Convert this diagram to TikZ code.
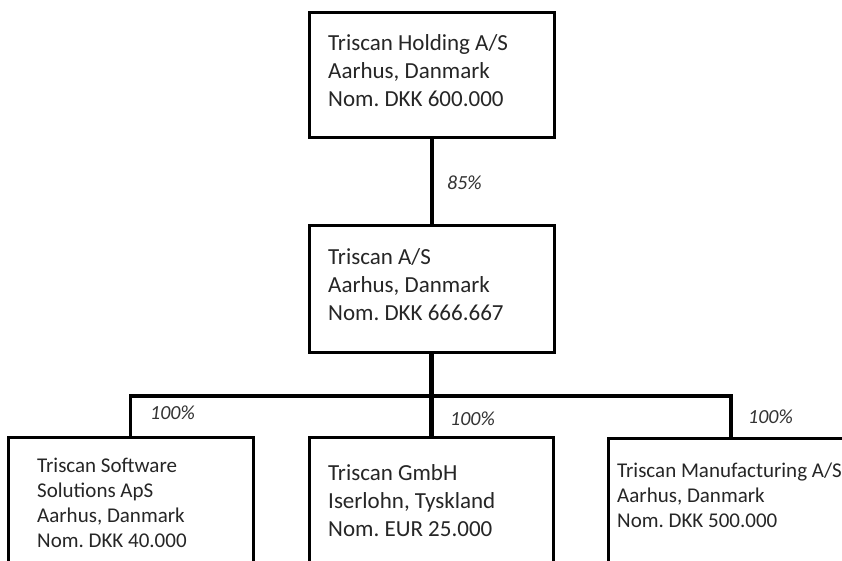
\documentclass[tikz,border=0pt]{standalone}
\usepackage{fontspec}
\setmainfont{Carlito}
\frenchspacing
\begin{document}
\begin{tikzpicture}[x=1pt,y=-1pt,
  box/.style={draw=black, line width=3pt, inner sep=0pt, rectangle},
  big/.style={font=\fontsize{23}{28}\selectfont, text=black!85, align=left, anchor=west, inner sep=0pt},
  small/.style={font=\fontsize{21}{25}\selectfont, text=black!85, align=left, anchor=west, inner sep=0pt},
  pct/.style={font=\fontsize{20}{24}\selectfont\itshape, text=black!80, anchor=west, inner sep=0pt},
  conn/.style={draw=black, line width=3.6pt, line join=miter}]
\useasboundingbox (0,0) rectangle (842,560);
\clip (0,0) rectangle (842,560);
\fill[white] (0,0) rectangle (842,560);
% boxes
\node[box, minimum width=245pt, minimum height=125pt] (top) at (431.5,74.5) {};
\node[box, minimum width=245pt, minimum height=127pt] (mid) at (431.5,288.5) {};
\node[box, minimum width=245pt, minimum height=143pt] (b1) at (130.5,508.5) {};
\node[box, minimum width=244pt, minimum height=143pt] (b2) at (431.5,508.5) {};
\node[box, minimum width=246pt, minimum height=142pt] (b3) at (731,509) {};
% texts
\node[big] (t1) at (328,71) {Triscan Holding A/S\\Aarhus, Danmark\\Nom. DKK 600.000};
\node[big] (t2) at (328,284.5) {Triscan A/S\\Aarhus, Danmark\\Nom. DKK 666.667};
\node[small] (t3) at (37,503) {Triscan Software\\Solutions ApS\\Aarhus, Danmark\\Nom. DKK 40.000};
\node[big] (t4) at (328,501) {Triscan GmbH\\Iserlohn, Tyskland\\Nom. EUR 25.000};
\node[small] (t5) at (617,495) {Triscan Manufacturing A/S\\Aarhus, Danmark\\Nom. DKK 500.000};
% connectors
\coordinate (bus) at (431.5,396);
\draw[conn, line width=4pt] (top.south) -- (mid.north);
\draw[conn, line width=5pt] (mid.south) -- (bus);
\draw[conn] (b1.north) |- (bus) -| (b3.north);
\draw[conn, line width=5pt] (bus) -- (b2.north);
% labels
\node[pct] (p0) at (447,183) {85\%};
\node[pct] (p1) at (150,413) {100\%};
\node[pct] (p2) at (450,419) {100\%};
\node[pct] (p3) at (748,417) {100\%};
\end{tikzpicture}
\end{document}
